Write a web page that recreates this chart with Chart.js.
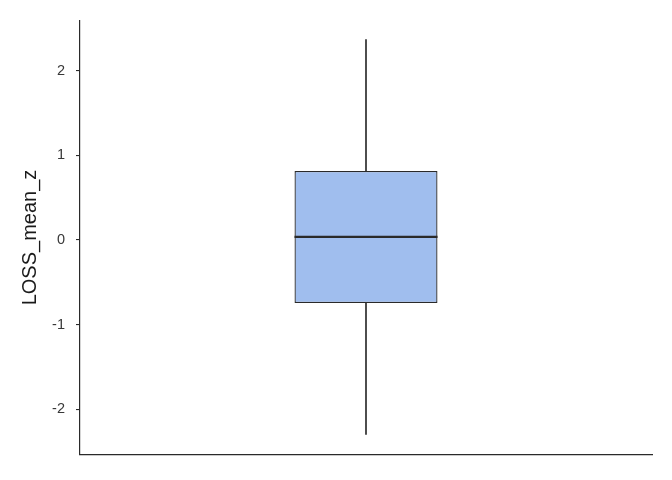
<!DOCTYPE html>
<html>
<head>
<meta charset="utf-8">
<script src="https://cdn.jsdelivr.net/npm/chart.js@4"></script>
<style>
  html, body { margin: 0; padding: 0; background: #fff; }
  #wrap { width: 672px; height: 480px; }
</style>
</head>
<body>
<div id="wrap"><canvas id="myChart" width="672" height="480"></canvas></div>
<script>
// box summary
var categories = ['LOSS_mean_z'];
var lowerWhisker = [-2.30];
var q1 = [-0.745];
var medians = [0.036];
var q3 = [0.817];
var upperWhisker = [2.37];

var yTicks = [-2, -1, 0, 1, 2];
var yMin = -2.536;
var yMax = 2.595;

var ink = '#2a2a2a';
var fill = 'rgb(160, 190, 238)';

// whiskers go from box edge to the extremes
var whiskerLow = [], whiskerHigh = [], boxes = [];
for (var i = 0; i < categories.length; i++) {
    whiskerLow.push([lowerWhisker[i], q1[i]]);
    whiskerHigh.push([q3[i], upperWhisker[i]]);
    boxes.push([q1[i], q3[i]]);
}

// median line drawn across the box bar
var medianPlugin = {
    id: 'medianLine',
    afterDatasetsDraw: function(chart) {
        var ctx = chart.ctx;
        var meta = chart.getDatasetMeta(2);
        var y = chart.scales.y;
        ctx.save();
        ctx.strokeStyle = ink;
        ctx.lineWidth = 2.2;
        for (var i = 0; i < meta.data.length; i++) {
            var bar = meta.data[i];
            var py = y.getPixelForValue(medians[i]);
            ctx.beginPath();
            ctx.moveTo(bar.x - bar.width / 2, py);
            ctx.lineTo(bar.x + bar.width / 2, py);
            ctx.stroke();
        }
        ctx.restore();
    }
};

var ctx = document.getElementById('myChart').getContext('2d');
var myChart = new Chart(ctx, {
    type: 'bar',
    data: {
        labels: categories,
        datasets: [{
                label: 'lower whisker',
                data: whiskerLow,
                backgroundColor: ink,
                borderWidth: 0,
                barThickness: 1,
                grouped: false,
                order: 2
            },
            {
                label: 'upper whisker',
                data: whiskerHigh,
                backgroundColor: ink,
                borderWidth: 0,
                barThickness: 1,
                grouped: false,
                order: 2
            },
            {
                label: 'box',
                data: boxes,
                backgroundColor: fill,
                borderColor: ink,
                borderWidth: 1.3,
                borderSkipped: false,
                barPercentage: 0.25,
                categoryPercentage: 1,
                grouped: false,
                order: 1
            }
        ]
    },
    options: {
        responsive: false,
        animation: false,
        events: [],
        layout: {
            padding: { top: 20.5, right: 20, bottom: 25.5, left: 0 }
        },
        plugins: {
            legend: { display: false },
            tooltip: { enabled: false }
        },
        scales: {
            x: {
                ticks: { display: false },
                grid: { display: false, drawTicks: false },
                border: { display: true, color: ink, width: 1.2 },
                afterFit: function(s) { s.height = 0; }
            },
            y: {
                min: yMin,
                max: yMax,
                afterBuildTicks: function(s) {
                    s.ticks = yTicks.map(function(v) { return { value: v }; });
                },
                afterFit: function(s) { s.width = 80; },
                ticks: {
                    color: '#383838',
                    padding: 11,
                    font: { family: '"Liberation Sans", Arial, sans-serif', size: 14.5 }
                },
                grid: {
                    drawOnChartArea: false,
                    drawTicks: true,
                    tickLength: 4,
                    color: ink,
                    lineWidth: 1.1
                },
                border: { display: true, color: ink, width: 1.2 },
                title: {
                    display: true,
                    text: 'LOSS_mean_z',
                    color: '#1a1a1a',
                    padding: { top: 18, bottom: 0 },
                    font: { family: '"Liberation Sans", Arial, sans-serif', size: 20 }
                }
            }
        }
    },
    plugins: [medianPlugin]
});
</script>
</body>
</html>
